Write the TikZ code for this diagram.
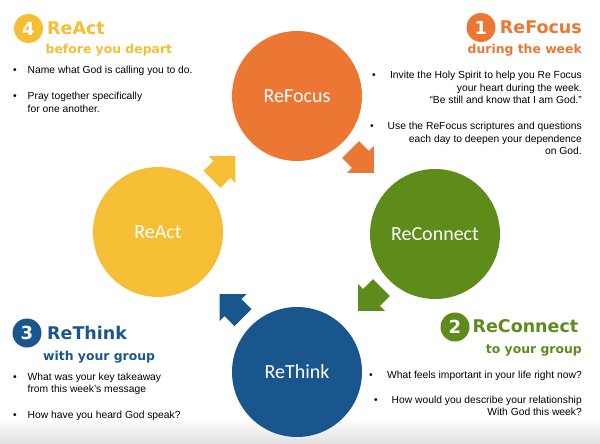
\documentclass[tikz,border=0pt]{standalone}
\usepackage{fontspec}
\setmainfont{Liberation Sans}
\newfontfamily\headfont{DejaVu Sans}
\newfontfamily\ballfont{Carlito}
\usetikzlibrary{shapes,calc}
\definecolor{focusorange}{RGB}{236,118,52}
\definecolor{connectgreen}{RGB}{94,140,26}
\definecolor{thinkblue}{RGB}{26,86,142}
\definecolor{actyellow}{RGB}{245,190,52}

\begin{document}
\begin{tikzpicture}[x=1pt, y=-1pt,
  ball/.style={circle, minimum size=130pt, inner sep=0pt, text=white, font=\ballfont\fontsize{20}{24}\selectfont},
  badge/.style={circle, minimum size=29pt, inner sep=0pt, text=white, font=\headfont\bfseries\fontsize{18}{20}\selectfont},
  head/.style={inner sep=0pt, font=\headfont\bfseries\fontsize{17.5}{20}\selectfont},
  subhead/.style={inner sep=0pt, font=\headfont\bfseries\fontsize{12.4}{14}\selectfont},
  body/.style={inner sep=0pt, font=\fontsize{10.3}{12.5}\selectfont},
  dot/.style={inner sep=0pt, anchor=base, font=\fontsize{10.3}{12.5}\selectfont}]
\useasboundingbox (0,0) rectangle (600,444);
\shade[top color=white, bottom color=black!12] (0,418) rectangle (600,444); % faint floor

% the four circles
\foreach \name/\x/\y/\col/\txt in {focus/297/96/focusorange/ReFocus, connect/435/234/connectgreen/ReConnect,
  think/297/372/thinkblue/ReThink, act/158/232/actyellow/ReAct}
\node[ball, fill=\col] (\name) at (\x,\y) {\txt};

% block arrows half way round, edit here for their shape
\foreach \from/\to/\ang/\col in {focus/connect/-45/focusorange, connect/think/-135/connectgreen,
  think/act/135/thinkblue, act/focus/45/actyellow}
\fill[\col, shift={($(\from)!0.47!(\to)$)}, rotate=\ang]
  (-16,-12) -- (-2,-12) -- (-2,-19) -- (17,0) -- (-2,19) -- (-2,12) -- (-16,12) -- cycle;

% 1 ReFocus
\node[badge, fill=focusorange] (n1) at (481,27.5) {1};
\node[head, text=focusorange, anchor=base east] (h1) at (582,33.5) {ReFocus};
\node[subhead, text=focusorange, anchor=base east] (s1) at (582,53.5) {during the week};
\node[dot] (b11) at (374,78.5) {\textbullet};
\node[body, align=right, anchor=north east] (t11) at (582,71) {Invite the Holy Spirit to help you Re Focus\\your heart during the week.\\“Be still and know that I am God.”};
\node[dot] (b12) at (372,129.5) {\textbullet};
\node[body, align=right, anchor=north east] (t12) at (582,122) {Use the ReFocus scriptures and questions\\each day to deepen your dependence\\on God.};

% 2 ReConnect
\node[badge, fill=connectgreen] (n2) at (455,327) {2};
\node[head, text=connectgreen, anchor=base east] (h2) at (578.5,332.5) {ReConnect};
\node[subhead, text=connectgreen, anchor=base east] (s2) at (582,353.5) {to your group};
\node[dot] (b21) at (371,378.5) {\textbullet};
\node[body, anchor=base east] (t21) at (582,378.5) {What feels important in your life right now?};
\node[dot] (b22) at (376,403) {\textbullet};
\node[body, align=right, anchor=north east] (t22) at (582,395.5) {How would you describe your relationship\\With God this week?};

% 3 ReThink
\node[badge, fill=thinkblue] (n3) at (27,333) {3};
\node[head, text=thinkblue, anchor=base west] (h3) at (47,339.5) {ReThink};
\node[subhead, text=thinkblue, anchor=base west] (s3) at (43,360) {with your group};
\node[dot] (b31) at (15,380) {\textbullet};
\node[body, align=left, anchor=north west] (t31) at (27.5,372.5) {What was your key takeaway\\from this week’s message};
\node[dot] (b32) at (15,418.5) {\textbullet};
\node[body, anchor=base west] (t32) at (27.5,418.5) {How have you heard God speak?};

% 4 ReAct
\node[badge, fill=actyellow] (n4) at (28.5,28.5) {4};
\node[head, text=actyellow, anchor=base west] (h4) at (47,35) {ReAct};
\node[subhead, text=actyellow, anchor=base west] (s4) at (45.5,53.5) {before you depart};
\node[dot] (b41) at (15,74) {\textbullet};
\node[body, anchor=base west] (t41) at (27.5,74) {Name what God is calling you to do.};
\node[dot] (b42) at (15,99.5) {\textbullet};
\node[body, align=left, anchor=north west] (t42) at (27.5,92) {Pray together specifically\\for one another.};
\end{tikzpicture}
\end{document}
